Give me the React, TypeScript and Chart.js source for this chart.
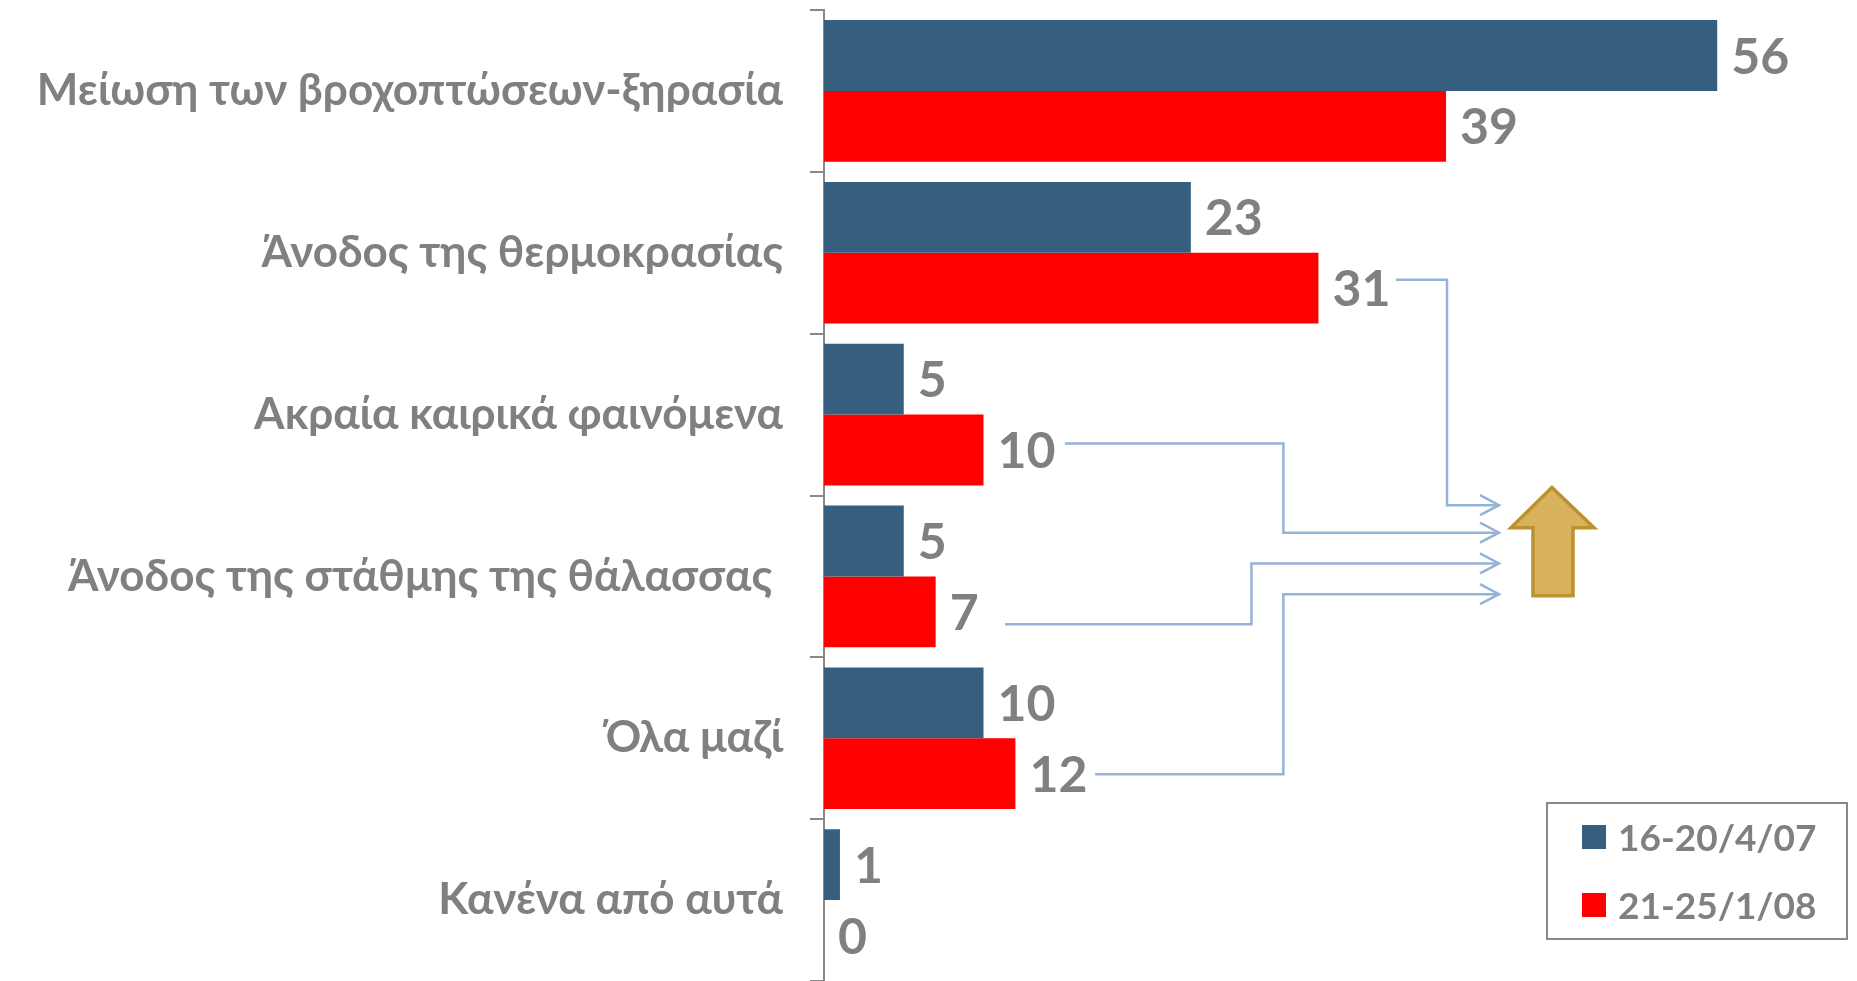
import React, { useEffect, useRef } from "react";
import { Chart, registerables } from "chart.js";

Chart.register(...registerables);

const categories = [
  "Μείωση των βροχοπτώσεων-ξηρασία",
  "Άνοδος της θερμοκρασίας",
  "Ακραία καιρικά φαινόμενα",
  "Άνοδος της στάθμης της θάλασσας ",
  "Όλα μαζί",
  "Κανένα από αυτά",
];
const seriesLabels = ["16-20/4/07", "21-25/1/08"];
const series2007 = [56, 23, 5, 5, 10, 1];
const series2008 = [39, 31, 10, 7, 12, 0];
const seriesColors = ["#365E7E", "#FF0000"];

// connector annotations in data units (x value, y category index)
const connectorStartX = [35.86, 15.1, 11.35, 17.0];
const connectorStartY = [1.167, 2.179, 3.296, 4.222];
const connectorTurnX = [39.06, 28.8, 26.8, 28.8];
const connectorEndY = [2.56, 2.73, 2.92, 3.11];
const connectorEndX = 42.32;
// block arrow in data units
const blockArrowX = [43.07, 44.45, 45.64, 46.96, 48.28];
const blockArrowY = [2.45, 2.7, 3.12];

const GRAY = "#808080";
const FONT = "Lato, 'Open Sans', sans-serif";

const annotationPlugin = {
  id: "annotations",
  afterDraw(chart: any) {
    const ctx = chart.ctx;
    const xs = chart.scales.x;
    const ys = chart.scales.y;
    const px = (v: number) => xs.getPixelForValue(v);
    const py = (v: number) => ys.getPixelForValue(v);

    // value labels
    ctx.save();
    ctx.font = `bold 50px ${FONT}`;
    ctx.fillStyle = GRAY;
    ctx.textAlign = "left";
    ctx.textBaseline = "middle";
    chart.data.datasets.forEach((ds: any, di: number) => {
      const meta = chart.getDatasetMeta(di);
      meta.data.forEach((el: any, i: number) => {
        ctx.fillText(String(ds.data[i]), el.x + 14, el.y + 2);
      });
    });
    ctx.restore();

    // connectors
    ctx.save();
    ctx.strokeStyle = "#95B3D7";
    ctx.lineWidth = 2.5;
    ctx.lineJoin = "miter";
    for (let i = 0; i < connectorStartX.length; i++) {
      const ex = px(connectorEndX);
      const ey = py(connectorEndY[i]);
      ctx.beginPath();
      ctx.moveTo(px(connectorStartX[i]), py(connectorStartY[i]));
      ctx.lineTo(px(connectorTurnX[i]), py(connectorStartY[i]));
      ctx.lineTo(px(connectorTurnX[i]), ey);
      ctx.lineTo(ex, ey);
      ctx.stroke();
      ctx.beginPath();
      ctx.moveTo(ex - 19, ey - 10);
      ctx.lineTo(ex, ey);
      ctx.lineTo(ex - 19, ey + 10);
      ctx.stroke();
    }
    ctx.restore();

    // block arrow
    ctx.save();
    ctx.beginPath();
    ctx.moveTo(px(blockArrowX[2]), py(blockArrowY[0]));
    ctx.lineTo(px(blockArrowX[4]), py(blockArrowY[1]));
    ctx.lineTo(px(blockArrowX[3]), py(blockArrowY[1]));
    ctx.lineTo(px(blockArrowX[3]), py(blockArrowY[2]));
    ctx.lineTo(px(blockArrowX[1]), py(blockArrowY[2]));
    ctx.lineTo(px(blockArrowX[1]), py(blockArrowY[1]));
    ctx.lineTo(px(blockArrowX[0]), py(blockArrowY[1]));
    ctx.closePath();
    ctx.fillStyle = "#D9B25E";
    ctx.fill();
    ctx.strokeStyle = "#BC912F";
    ctx.lineWidth = 3.5;
    ctx.stroke();
    ctx.restore();

    // legend box
    const w = chart.width;
    const h = chart.height;
    const bx = w - 310;
    const by = h - 178;
    const bw = 300;
    const bh = 136;
    ctx.save();
    ctx.strokeStyle = "#888888";
    ctx.lineWidth = 2;
    ctx.fillStyle = "#FFFFFF";
    ctx.fillRect(bx, by, bw, bh);
    ctx.strokeRect(bx, by, bw, bh);
    ctx.font = `bold 37px ${FONT}`;
    ctx.textAlign = "left";
    ctx.textBaseline = "middle";
    chart.data.datasets.forEach((ds: any, di: number) => {
      const cy = by + 34 + di * 68;
      ctx.fillStyle = ds.backgroundColor;
      ctx.fillRect(bx + 35, cy - 12, 24, 24);
      ctx.fillStyle = GRAY;
      ctx.fillText(ds.label, bx + 71, cy + 2);
    });
    ctx.restore();
  },
};

export default function App() {
  const ref = useRef<HTMLCanvasElement | null>(null);
  useEffect(() => {
    if (!ref.current) return;
    const chart = new Chart(ref.current, {
      type: "bar",
      data: {
        labels: categories,
        datasets: [
          { label: seriesLabels[0], data: series2007, backgroundColor: seriesColors[0] },
          { label: seriesLabels[1], data: series2008, backgroundColor: seriesColors[1] },
        ],
      },
      options: {
        indexAxis: "y",
        animation: false,
        responsive: true,
        maintainAspectRatio: false,
        layout: { padding: { top: 10, bottom: 0, left: 0, right: 76 } },
        plugins: { legend: { display: false }, tooltip: { enabled: false } },
        datasets: { bar: { categoryPercentage: 0.875, barPercentage: 1 } },
        scales: {
          x: { display: false, min: 0, max: 60 },
          y: {
            afterFit: (s: any) => {
              s.width = 824;
              s.paddingTop = 0;
              s.paddingBottom = 0;
            },
            border: { display: true, color: "#888888", width: 2 },
            grid: { display: true, drawOnChartArea: false, color: "#888888", lineWidth: 2, tickLength: 14, offset: true },
            ticks: { color: GRAY, padding: 27, font: { family: FONT, size: 44, weight: "bold" } },
          },
        },
      },
      plugins: [annotationPlugin],
    });
    return () => chart.destroy();
  }, []);
  return (
    <div style={{ position: "absolute", left: 0, top: 0, width: 1857, height: 981, background: "#fff" }}>
      <canvas ref={ref} />
    </div>
  );
}
